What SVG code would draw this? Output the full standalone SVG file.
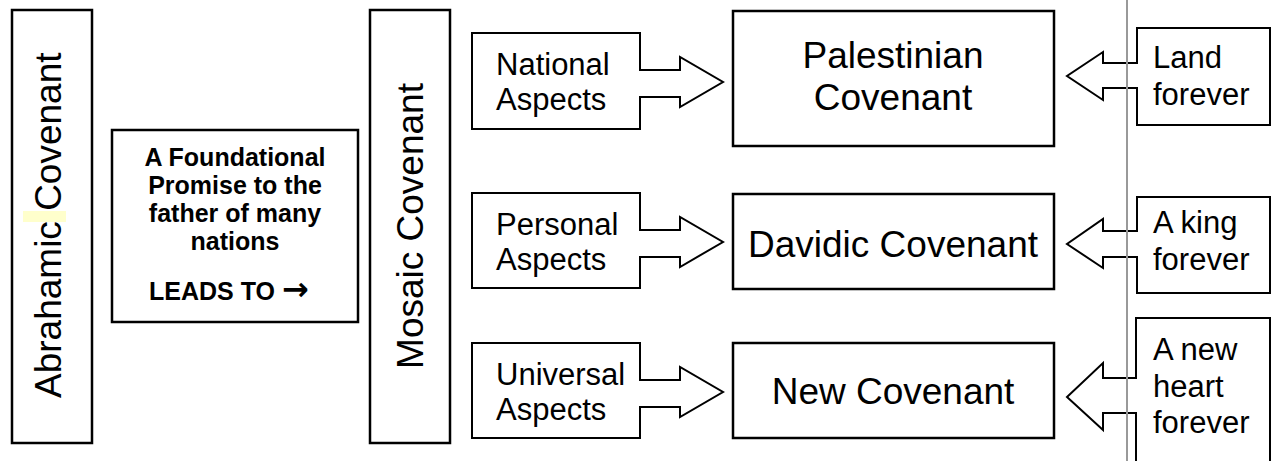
<svg xmlns="http://www.w3.org/2000/svg" width="1271" height="461" viewBox="0 0 1271 461">
<style>
.box{fill:#fff;stroke:#000;stroke-width:2.5}
.co{fill:#fff;stroke:#000;stroke-width:2;stroke-linejoin:miter}
text{font-family:"Liberation Sans",Arial,sans-serif;fill:#000}
.big{font-size:37px}
.mid{font-size:31px}
.bold{font-size:25px;font-weight:bold}
.arr{font-family:"DejaVu Sans",sans-serif;font-size:32px;font-weight:bold}
</style>
<rect width="1271" height="461" fill="#fff"/>
<g id="abrahamic">
<rect class="box" x="12" y="10" width="80" height="433"/>
<rect x="23" y="211" width="43" height="11" fill="#ffffcc"/>
<text class="big" transform="translate(61,398) rotate(-90)">Abrahamic Covenant</text>
</g>
<g id="foundational">
<rect class="box" x="112" y="130" width="246" height="192"/>
<text class="bold" text-anchor="middle" x="235" y="166">A Foundational</text>
<text class="bold" text-anchor="middle" x="235" y="194">Promise to the</text>
<text class="bold" text-anchor="middle" x="235" y="222">father of many</text>
<text class="bold" text-anchor="middle" x="235" y="250">nations</text>
<text class="bold" x="149" y="300">LEADS TO <tspan class="arr">→</tspan></text>
</g>
<g id="mosaic">
<rect class="box" x="370" y="10" width="80" height="433"/>
<text class="big" text-anchor="middle" transform="translate(423,226) rotate(-90)">Mosaic Covenant</text>
</g>
<g id="national">
<path class="co" d="M472,33 H640 V70 H680 V57 L723,82 L680,107 V97 H640 V129 H472 Z"/>
<text class="mid" x="496" y="75">National</text>
<text class="mid" x="496" y="110">Aspects</text>
</g>
<g id="personal">
<path class="co" d="M472,193 H640 V230 H680 V217 L723,242 L680,267 V257 H640 V288 H472 Z"/>
<text class="mid" x="496" y="235">Personal</text>
<text class="mid" x="496" y="270">Aspects</text>
</g>
<g id="universal">
<path class="co" d="M472,343 H640 V380 H680 V367 L723,392 L680,417 V407 H640 V438 H472 Z"/>
<text class="mid" x="496" y="385">Universal</text>
<text class="mid" x="496" y="420">Aspects</text>
</g>
<g id="palestinian">
<rect class="box" x="733" y="11" width="321" height="135"/>
<text class="big" text-anchor="middle" x="893" y="68">Palestinian</text>
<text class="big" text-anchor="middle" x="893" y="110">Covenant</text>
</g>
<g id="davidic">
<rect class="box" x="733" y="194" width="321" height="95"/>
<text class="big" text-anchor="middle" x="893" y="257">Davidic Covenant</text>
</g>
<g id="new-covenant">
<rect class="box" x="733" y="343" width="321" height="95"/>
<text class="big" text-anchor="middle" x="893" y="404">New Covenant</text>
</g>
<g id="land">
<path class="co" d="M1270,28 H1137 V63 H1103 V52 L1067,76 L1103,100 V88 H1137 V125 H1270 Z"/>
<text class="mid" x="1153" y="68">Land</text>
<text class="mid" x="1153" y="105">forever</text>
</g>
<g id="king">
<path class="co" d="M1270,197 H1137 V231 H1103 V219 L1067,244 L1103,268 V257 H1137 V293 H1270 Z"/>
<text class="mid" x="1153" y="233">A king</text>
<text class="mid" x="1153" y="270">forever</text>
</g>
<g id="heart">
<path class="co" d="M1270,318 H1136 V378 H1103 V363 L1067,397 L1103,430 V413 H1136 V475 H1270 Z"/>
<text class="mid" x="1153" y="360">A new</text>
<text class="mid" x="1153" y="397">heart</text>
<text class="mid" x="1153" y="433">forever</text>
</g>
<g id="connectors">
<line x1="1127" y1="0" x2="1127" y2="461" stroke="#999" stroke-width="2"/>
</g>
</svg>
